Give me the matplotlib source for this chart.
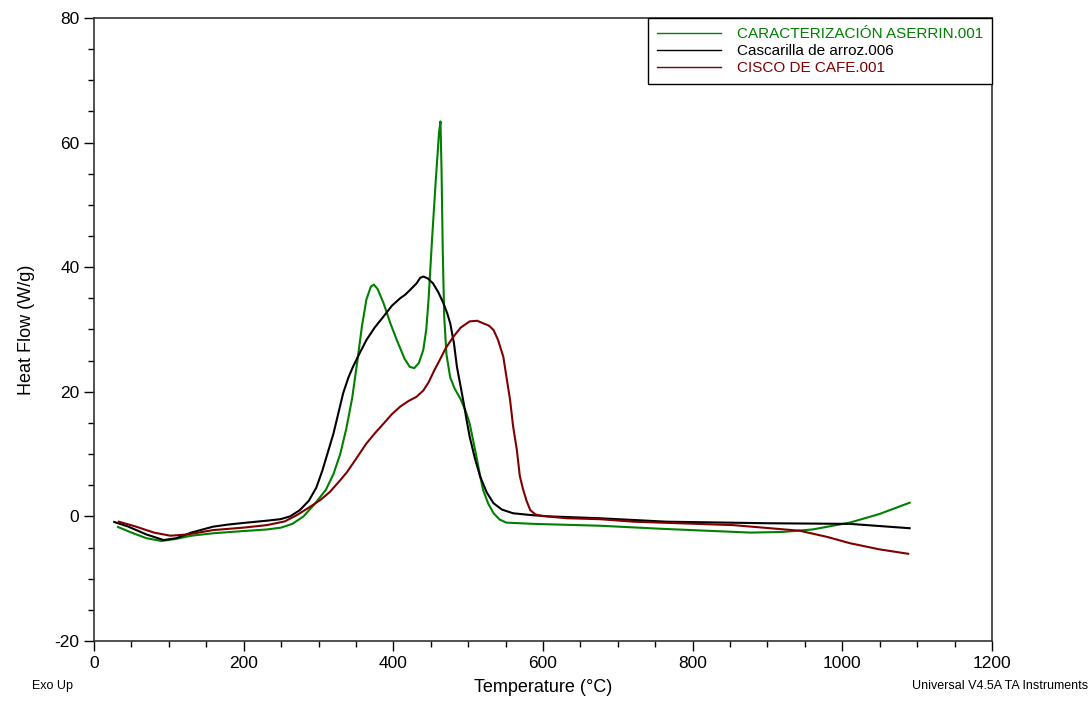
import matplotlib.pyplot as plt
from matplotlib.ticker import MultipleLocator

plt.rcParams['font.family'] = ['Liberation Sans', 'DejaVu Sans']
plt.rcParams['axes.unicode_minus'] = False

# Aserrin (sawdust) DSC trace
t_aserrin = [32, 50, 70, 90, 110, 130, 160, 200, 231, 250, 265, 280, 295, 310, 320,
             329, 337, 345, 352, 358, 364, 370, 374, 379, 387, 396, 405, 415, 422,
             428, 434, 440, 444, 447, 452, 457, 461, 463, 464.5, 466, 468, 471, 476,
             482, 490, 497, 502, 507, 511, 516, 520, 527, 534, 542, 551, 587, 676,
             760, 877, 920, 960, 1010, 1050, 1090]
hf_aserrin = [-1.7, -2.6, -3.5, -3.95, -3.6, -3.1, -2.7, -2.35, -2.1, -1.8, -1.2, 0.0,
              2.0, 4.3, 6.8, 10.0, 14.0, 19.0, 25.0, 30.5, 34.8, 36.9, 37.2, 36.5,
              34.2, 31.0, 28.2, 25.3, 24.0, 23.8, 24.6, 26.7, 30.0, 34.7, 45.0, 54.5,
              61.5, 63.4, 55.0, 42.8, 32.0, 26.0, 22.3, 20.5, 18.8, 16.8, 14.9, 12.0,
              9.6, 6.5, 4.2, 2.0, 0.5, -0.5, -1.0, -1.2, -1.5, -2.0, -2.6, -2.5, -2.1,
              -1.0, 0.4, 2.2]

# Cascarilla de arroz (rice husk)
t_arroz = [27, 45, 70, 93, 110, 130, 159, 180, 204, 230, 249, 262, 275, 287, 297, 305,
           313, 320, 327, 333, 340, 346, 355, 364, 375, 387, 398, 409, 416, 422, 431,
           436, 440, 446, 453, 460, 467, 472, 476, 481, 485, 490, 494, 498, 502, 509,
           516, 525, 534, 545, 560, 585, 609, 676, 765, 899, 1010, 1090]
hf_arroz = [-0.9, -1.6, -2.9, -3.8, -3.5, -2.6, -1.65, -1.3, -1.0, -0.7, -0.45, 0.0,
            1.0, 2.5, 4.6, 7.3, 10.5, 13.3, 16.8, 19.8, 22.3, 24.0, 26.2, 28.3, 30.3,
            32.1, 33.8, 35.0, 35.6, 36.3, 37.4, 38.3, 38.5, 38.2, 37.4, 36.0, 34.2,
            32.6, 31.0, 27.8, 24.0, 20.8, 18.2, 15.4, 12.8, 9.3, 6.4, 3.8, 2.1, 1.1,
            0.5, 0.2, 0.0, -0.3, -0.85, -1.1, -1.2, -1.9]

# Cisco de cafe (coffee husk)
t_cafe = [33, 55, 80, 102, 125, 159, 200, 231, 255, 271, 287, 302, 315, 329, 338, 346,
          355, 364, 375, 387, 398, 409, 420, 431, 440, 447, 455, 462, 470, 480, 490,
          502, 512, 520, 528, 534, 540, 547, 551, 556, 560, 565, 569, 573, 578, 583,
          590, 600, 632, 676, 721, 854, 943, 980, 1010, 1050, 1088]
hf_cafe = [-0.85, -1.6, -2.6, -3.1, -2.9, -2.2, -1.8, -1.4, -0.8, 0.2, 1.4, 2.6, 3.9,
           5.8, 7.1, 8.5, 10.1, 11.7, 13.3, 14.9, 16.4, 17.6, 18.5, 19.2, 20.2, 21.5,
           23.5, 25.1, 27.0, 28.8, 30.3, 31.3, 31.4, 31.0, 30.6, 29.9, 28.3, 25.6,
           22.5, 18.7, 14.5, 10.7, 6.5, 4.5, 2.5, 1.0, 0.3, 0.05, -0.3, -0.45, -0.85,
           -1.4, -2.3, -3.3, -4.3, -5.3, -6.0]

fig = plt.figure(figsize=(10.92, 7.02), dpi=100)
ax = fig.add_axes([0.0861, 0.0869, 0.8223, 0.8875])

ax.plot(t_aserrin, hf_aserrin, color='#008000', lw=1.5, label='CARACTERIZACIÓN ASERRIN.001')
ax.plot(t_arroz, hf_arroz, color='#000000', lw=1.5, label='Cascarilla de arroz.006')
ax.plot(t_cafe, hf_cafe, color='#800000', lw=1.5, label='CISCO DE CAFE.001')

ax.set_xlim(0, 1200)
ax.set_ylim(-20, 80)
ax.xaxis.set_major_locator(MultipleLocator(200))
ax.xaxis.set_minor_locator(MultipleLocator(50))
ax.yaxis.set_major_locator(MultipleLocator(20))
ax.yaxis.set_minor_locator(MultipleLocator(5))
ax.tick_params(which='major', length=7, width=1, labelsize=12.5, direction='out')
ax.tick_params(which='minor', length=4, width=1, direction='out')
for s in ax.spines.values():
    s.set_linewidth(1.2)
    s.set_color('#333333')

ax.set_ylabel('Heat Flow (W/g)', fontsize=13, labelpad=14)
fig.text(543 / 1092, 1 - 688 / 702, 'Temperature (°C)', fontsize=13,
         va='center', ha='center')

leg = ax.legend(loc='upper right', bbox_to_anchor=(1.0, 1.0), borderaxespad=0,
                fancybox=False, edgecolor='black', framealpha=1, fontsize=11,
                handlelength=4.2, handletextpad=1.0, labelspacing=0.2,
                borderpad=0.6, labelcolor='linecolor')
leg.get_frame().set_linewidth(1.0)
for ln in leg.get_lines():
    ln.set_linewidth(1.0)

fig.text(32 / 1092, 1 - 686 / 702, 'Exo Up', fontsize=9, va='center', ha='left')
fig.text(1088 / 1092, 1 - 686 / 702, 'Universal V4.5A TA Instruments', fontsize=9,
         va='center', ha='right')

fig.savefig('out.png', dpi=100)
